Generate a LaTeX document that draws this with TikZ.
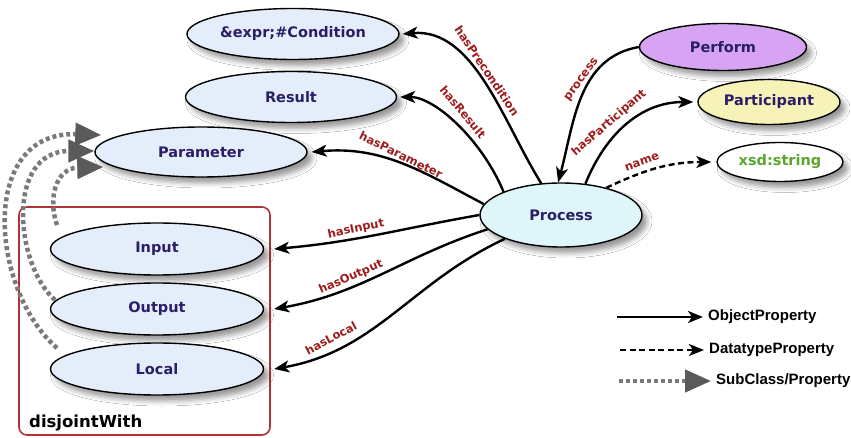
\documentclass[tikz,border=0pt]{standalone}
\usepackage{fontspec}
\setmainfont{DejaVu Sans}
\newfontfamily\legendfont{Liberation Sans}
\usepackage{tikz}
\usetikzlibrary{shapes.geometric,arrows.meta,shadows.blur}
\definecolor{classfill}{RGB}{228,238,251}
\definecolor{procfill}{RGB}{222,246,250}
\definecolor{perffill}{RGB}{214,164,242}
\definecolor{partfill}{RGB}{247,243,184}
\definecolor{classtext}{RGB}{42,30,102}
\definecolor{xsdgreen}{RGB}{92,166,46}
\definecolor{lblred}{RGB}{160,28,28}
\definecolor{boxred}{RGB}{176,52,52}
\definecolor{subgray}{RGB}{122,122,122}
\definecolor{subtip}{RGB}{90,90,90}

\begin{document}
\begin{tikzpicture}[x=1pt,y=1pt]
\tikzset{cls/.style={ellipse,draw,line width=1.4pt,fill=classfill,inner sep=0pt,text=classtext,
           font=\bfseries\fontsize{14.5}{17}\selectfont,
           blur shadow={shadow xshift=5pt,shadow yshift=-6pt,shadow blur radius=5pt,shadow opacity=40}},
         lbl/.style={text=lblred,inner sep=0pt,font=\bfseries\fontsize{11.5}{13}\selectfont},
         legend/.style={anchor=west,inner sep=5pt,font=\legendfont\bfseries\fontsize{15}{17}\selectfont},
         objprop/.style={line width=2.4pt,-{Stealth[length=15pt,width=12pt,inset=4pt]}},
         dataprop/.style={objprop,dash pattern=on 6pt off 3.5pt},
         subprop/.style={draw=subgray,line width=4.5pt,dash pattern=on 4pt off 3pt,
           -{Triangle[length=26pt,width=22pt,fill=subtip,color=subtip]}}}
\fill[white] (0,0) rectangle (851,-438);
\useasboundingbox (0,0) rectangle (851,-438);

\node[draw=boxred,line width=1.6pt,rounded corners=8pt,minimum width=251pt,minimum height=228pt,inner sep=0pt] (dj) at (144.5,-321) {};
\node[anchor=base west,inner sep=0pt,font=\bfseries\fontsize{16.5}{19}\selectfont] (djtxt) at (29,-427) {disjointWith};

\node[cls,minimum width=212pt,minimum height=51pt] (cond) at (293,-34) {\&expr;\#Condition};
\node[cls,minimum width=211pt,minimum height=51pt] (res) at (291,-97) {Result};
\node[cls,minimum width=212pt,minimum height=50pt] (param) at (201,-152) {Parameter};
\node[cls,fill=procfill,minimum width=162pt,minimum height=64pt] (proc) at (561,-215) {Process};
\node[cls,fill=perffill,minimum width=167pt,minimum height=47pt] (perf) at (723,-47) {Perform};
\node[cls,fill=partfill,minimum width=142pt,minimum height=45pt] (part) at (769,-102) {Participant};
\node[cls,fill=white,text=xsdgreen,minimum width=126pt,minimum height=39pt] (xsd) at (780,-162) {xsd:string};
\node[cls,minimum width=213pt,minimum height=52pt] (inp) at (157,-249) {Input};
\node[cls,minimum width=213pt,minimum height=52pt] (outp) at (157,-309) {Output};
\node[cls,minimum width=213pt,minimum height=52pt] (loc) at (157,-369) {Local};

\draw[objprop] (proc.122) to[out=122,in=5,looseness=0.9] ([xshift=3pt]cond.east);
\draw[objprop] (proc.158) .. controls (482,-140) and (435,-97) .. ([xshift=3pt]res.east);
\draw[objprop] (proc.172) to[out=152,in=5] ([xshift=4pt]param.east);
\draw[objprop] (proc.180) to[out=190,in=5] ([xshift=10pt]inp.east);
\draw[objprop] (proc.191) to[out=198,in=10] ([xshift=10pt]outp.east);
\draw[objprop] (proc.203) to[out=205,in=10] ([xshift=10pt]loc.east);
\draw[objprop] (perf.west) to[out=190,in=75] (proc.95);
\draw[objprop] (proc.52) to[out=68,in=180] ([xshift=-4pt]part.west);
\draw[dataprop] (proc.31) to[out=25,in=180] ([xshift=-5pt]xsd.west);

\node[lbl,rotate=-56] (lpre) at (487,-71) {hasPrecondition};
\node[lbl,rotate=-50] (lres) at (463,-112) {hasResult};
\node[lbl,rotate=-26] (lpar) at (401,-155) {hasParameter};
\node[lbl,rotate=54] (lproc) at (582,-80) {process};
\node[lbl,rotate=41] (lpart) at (609,-123) {hasParticipant};
\node[lbl,rotate=20] (lname) at (642,-162) {name};
\node[lbl,rotate=12] (linp) at (356,-229) {hasInput};
\node[lbl,rotate=23] (lout) at (351,-277) {hasOutput};
\node[lbl,rotate=28] (lloc) at (331,-338) {hasLocal};

\coordinate (subLoc) at (57,-348);
\coordinate (subOut) at (55,-300);
\coordinate (subIn) at (57,-225);
\draw[subprop] (subLoc) .. controls (-10,-290) and (-22,-131) .. ([shift={(7,17)}]param.west);
\draw[subprop] (subOut) .. controls (15,-265) and (5,-151) .. ([shift={(0,1)}]param.west);
\draw[subprop] (subIn) .. controls (48,-200) and (55,-168) .. ([shift={(9,-15)}]param.west);

\coordinate (objA) at (617,-317);
\coordinate (datA) at (620,-350);
\coordinate (subA) at (619,-381);
\node[legend] (objT) at (703,-317) {ObjectProperty};
\node[legend] (datT) at (704,-350) {DatatypeProperty};
\node[legend] (subT) at (711,-381) {SubClass/Property};
\draw[objprop] (objA) -- (objT.west);
\draw[dataprop] (datA) -- (datT.west);
\draw[subprop] (subA) -- (subT.west);
\end{tikzpicture}
\end{document}
